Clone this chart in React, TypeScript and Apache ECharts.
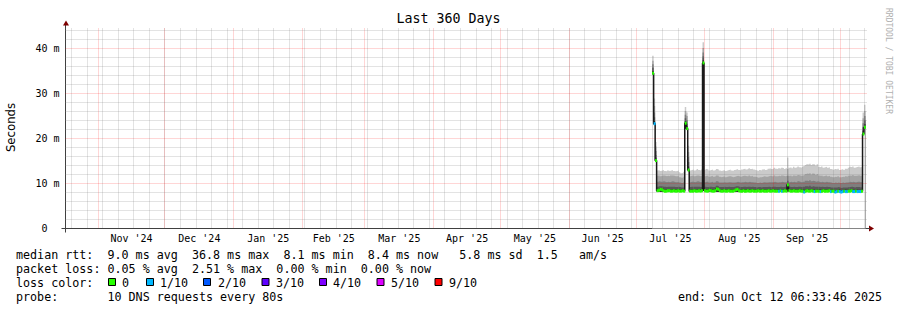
import React, { useEffect, useRef } from 'react';
import * as echarts from 'echarts';

// ---------------- data ----------------
const endTime = Date.UTC(2025, 9, 12, 6, 33, 46);
const spanDays = 360;
const stepSeconds = 57600; // consolidation step of the shown RRA (16 h)
const chartTitle = 'Last 360 Days';

// median RTT per step (ms), first step starts 144 steps before the end time
const medianRtt = [
  34.5, 23.3, 15.1,
  8.4, 8.5, 8.7, 8.6, 8.4, 8.3, 8.3, 8.4, 8.4, 8.3, 8.3, 8.4, 8.3, 8.3, 8.4, 8.3, 8.3, 8.4, 8.3,
  23.4, 22.2, 13.0,
  8.3, 8.3, 8.3, 8.4, 8.3, 8.3, 8.4, 8.3, 8.4,
  36.8,
  8.4, 8.3, 8.3, 8.5, 8.4, 8.3, 8.3, 8.4, 8.8, 8.7,
  8.4, 8.3, 8.3, 8.4, 8.3, 8.3, 8.4, 8.3, 8.3, 8.3,
  8.4, 8.6, 8.7, 8.4, 8.3, 8.3, 8.4, 8.3, 8.3, 8.4,
  8.3, 8.3, 8.4, 8.3, 8.3, 8.3, 8.4, 8.3, 8.3, 8.4,
  8.3, 8.3, 8.3, 8.4, 8.3, 8.3, 8.4, 8.3, 8.3, 8.3,
  8.3, 8.4, 8.3, 8.3, 8.4, 8.3,
  9.7,
  8.4, 8.3, 8.3, 8.4, 8.3, 8.3, 8.3, 8.4,
  8.3, 8.3, 8.1, 8.3, 8.4, 8.3, 8.3, 8.4, 8.3, 8.2,
  8.3, 8.3, 8.3, 8.2, 8.3, 8.4, 8.3, 8.3, 8.3, 8.4,
  8.2, 8.3, 8.3, 8.1, 8.2, 8.3, 8.2, 8.1, 8.2, 8.3,
  8.2, 8.2, 8.3, 8.3, 8.4, 8.2, 8.2, 8.3, 8.2, 8.2,
  8.2, 8.3,
  21.0, 22.5,
];

// lost pings out of 10 per step
const lossTenths = [
  0, 1, 0, 0, 0, 0, 0, 0, 0, 0,
  0, 0, 0, 0, 0, 0, 0, 0, 0, 0,
  0, 0, 0, 0, 0, 0, 0, 0, 0, 0,
  0, 0, 0, 0, 0, 0, 0, 0, 0, 0,
  0, 0, 0, 0, 0, 0, 0, 0, 0, 0,
  0, 0, 0, 0, 0, 0, 0, 0, 0, 0,
  0, 0, 0, 0, 0, 0, 0, 0, 0, 0,
  0, 0, 0, 0, 0, 0, 0, 0, 0, 0,
  0, 0, 0, 0, 0, 1, 0, 1, 0, 0,
  0, 0, 0, 0, 0, 0, 0, 0, 0, 0,
  0, 0, 1, 0, 0, 0, 0, 0, 0, 1,
  0, 0, 0, 1, 0, 0, 0, 0, 0, 0,
  1, 0, 0, 1, 1, 0, 1, 1, 1, 0,
  1, 1, 0, 0, 0, 1, 1, 0, 1, 1,
  1, 0, 0, 0,
];

// smoke: lowest ping, and upper edges of the five grey shades (ms)
const pingMin = [
  34.2, 23.0, 14.8,
  8.1, 8.1, 8.1, 8.1, 8.1, 8.1, 8.1, 8.1, 8.1, 8.1, 8.1, 8.1, 8.1, 8.1, 8.1, 8.1, 8.1, 8.1, 8.1,
  23.1, 21.9, 12.7,
  8.1, 8.1, 8.1, 8.1, 8.1, 8.1, 8.1, 8.1, 8.1,
  36.5,
  8.1, 8.1, 8.1, 8.1, 8.1, 8.1, 8.1, 8.1, 8.1, 8.1,
  8.1, 8.1, 8.1, 8.1, 8.1, 8.1, 8.1, 8.1, 8.1, 8.1,
  8.1, 8.1, 8.1, 8.1, 8.1, 8.1, 8.1, 8.1, 8.1, 8.1,
  8.1, 8.1, 8.1, 8.1, 8.1, 8.1, 8.1, 8.1, 8.1, 8.1,
  8.1, 8.1, 8.1, 8.1, 8.1, 8.1, 8.1, 8.1, 8.1, 8.1,
  8.1, 8.1, 8.1, 8.1, 8.1, 8.1,
  8.2,
  8.1, 8.1, 8.1, 8.1, 8.1, 8.1, 8.1, 8.1,
  8.1, 8.1, 8.0, 8.1, 8.1, 8.1, 8.1, 8.1, 8.1, 8.1,
  8.1, 8.1, 8.1, 8.1, 8.1, 8.1, 8.1, 8.1, 8.1, 8.1,
  8.1, 8.1, 8.1, 8.0, 8.1, 8.1, 8.1, 8.0, 8.1, 8.1,
  8.1, 8.1, 8.1, 8.1, 8.1, 8.1, 8.1, 8.1, 8.1, 8.1,
  8.1, 8.1,
  20.7, 22.2,
];

const smokeTop1 = [
  35.0, 23.9, 15.6,
  8.8, 8.9, 9.0, 8.9, 8.8, 8.7, 8.7, 8.8, 8.8, 8.7, 8.7, 8.8, 8.7, 8.7, 8.8, 8.7, 8.7, 8.7, 8.7,
  23.9, 22.7, 13.8,
  8.7, 8.7, 8.7, 8.8, 8.7, 8.7, 8.8, 8.7, 8.8,
  37.4,
  8.8, 8.7, 8.7, 8.9, 8.8, 8.7, 8.7, 8.8, 9.1, 9.0,
  8.8, 8.7, 8.7, 8.8, 8.7, 8.7, 8.8, 8.7, 8.7, 8.7,
  8.8, 8.9, 9.0, 8.8, 8.7, 8.7, 8.8, 8.7, 8.7, 8.8,
  8.7, 8.7, 8.8, 8.7, 8.7, 8.7, 8.8, 8.7, 8.7, 8.8,
  8.7, 8.7, 8.7, 8.8, 8.7, 8.7, 8.8, 8.7, 8.7, 8.7,
  8.7, 8.8, 8.7, 8.7, 8.8, 8.7,
  10.0,
  8.8, 8.7, 8.7, 8.8, 8.7, 8.7, 8.7, 8.8, 8.7, 8.7,
  8.6, 8.7, 8.8, 8.7, 8.7, 8.8, 8.7, 8.6, 8.7, 8.7,
  8.7, 8.6, 8.7, 8.8, 8.7, 8.7, 8.7, 8.8, 8.6, 8.7,
  8.7, 8.5, 8.6, 8.7, 8.6, 8.5, 8.6, 8.7, 8.6, 8.6,
  8.7, 8.7, 8.8, 8.6, 8.6, 8.7, 8.6, 8.6, 8.6, 8.7,
  21.7, 23.2,
];

const smokeTop2 = [
  35.7, 24.7, 16.3,
  9.3, 9.4, 9.4, 9.4, 9.3, 9.3, 9.2, 9.3, 9.3, 9.3, 9.3, 9.3, 9.2, 9.2, 9.3, 9.2, 9.1, 9.1, 9.2,
  24.5, 23.3, 14.8,
  9.2, 9.3, 9.3, 9.3, 9.3, 9.3, 9.3, 9.2, 9.3,
  38.2,
  9.3, 9.2, 9.2, 9.3, 9.3, 9.2, 9.2, 9.3, 9.5, 9.4,
  9.2, 9.2, 9.2, 9.3, 9.2, 9.2, 9.3, 9.2, 9.2, 9.2,
  9.3, 9.4, 9.4, 9.3, 9.2, 9.2, 9.3, 9.3, 9.2, 9.3,
  9.3, 9.2, 9.3, 9.2, 9.2, 9.1, 9.2, 9.2, 9.1, 9.2,
  9.2, 9.2, 9.2, 9.3, 9.2, 9.2, 9.3, 9.3, 9.2, 9.2,
  9.2, 9.3, 9.2, 9.2, 9.3, 9.2,
  10.6,
  9.3, 9.2, 9.2, 9.3, 9.2, 9.2, 9.3, 9.3, 9.2, 9.3,
  9.2, 9.4, 9.4, 9.3, 9.5, 9.3, 9.4, 9.3, 9.3, 9.3,
  9.3, 9.2, 9.3, 9.2, 9.2, 9.3, 9.2, 9.2, 9.1, 9.1,
  9.1, 9.1, 9.1, 9.2, 9.1, 9.0, 9.1, 9.1, 9.1, 9.1,
  9.2, 9.2, 9.3, 9.2, 9.1, 9.2, 9.2, 9.2, 9.1, 9.2,
  22.5, 24.1,
];

const smokeTop3 = [
  36.5, 25.8, 17.2,
  10.4, 10.5, 10.4, 10.4, 10.5, 10.4, 10.3, 10.4, 10.3, 10.4, 10.5, 10.4, 10.3, 10.3, 10.4, 10.2, 10.1, 10.1, 10.3,
  25.3, 24.1, 15.9,
  10.3, 10.4, 10.4, 10.3, 10.4, 10.5, 10.4, 10.3, 10.4,
  39.1,
  10.3, 10.4, 10.4, 10.2, 10.3, 10.4, 10.2, 10.3, 10.5, 10.4,
  10.2, 10.2, 10.2, 10.3, 10.2, 10.2, 10.3, 10.3, 10.2, 10.2,
  10.2, 10.3, 10.4, 10.3, 10.2, 10.3, 10.3, 10.4, 10.3, 10.3,
  10.4, 10.3, 10.3, 10.2, 10.2, 10.1, 10.1, 10.2, 10.1, 10.2,
  10.3, 10.2, 10.2, 10.3, 10.3, 10.3, 10.3, 10.4, 10.3, 10.2,
  10.3, 10.3, 10.4, 10.3, 10.3, 10.3,
  11.7,
  10.3, 10.4, 10.3, 10.4, 10.3, 10.3, 10.5, 10.4, 10.3, 10.4,
  10.4, 10.6, 10.6, 10.5, 10.7, 10.5, 10.6, 10.5, 10.4, 10.5,
  10.4, 10.3, 10.4, 10.3, 10.3, 10.4, 10.3, 10.3, 10.2, 10.1,
  10.1, 10.2, 10.1, 10.2, 10.1, 10.1, 10.2, 10.1, 10.2, 10.2,
  10.3, 10.4, 10.3, 10.4, 10.3, 10.3, 10.4, 10.4, 10.3, 10.4,
  23.4, 25.0,
];

const smokeTop4 = [
  37.3, 27.2, 18.2,
  11.7, 11.8, 11.6, 11.7, 11.8, 11.7, 11.6, 11.7, 11.6, 11.8, 11.8, 11.7, 11.6, 11.6, 11.7, 11.4, 11.3, 11.3, 11.5,
  26.1, 25.0, 17.0,
  11.6, 11.7, 11.8, 11.6, 11.7, 11.8, 11.7, 11.6, 11.7,
  40.1,
  11.6, 11.7, 11.7, 11.5, 11.6, 11.7, 11.5, 11.6, 11.8, 11.7,
  11.5, 11.4, 11.5, 11.6, 11.4, 11.5, 11.6, 11.6, 11.5, 11.4,
  11.5, 11.6, 11.7, 11.6, 11.5, 11.6, 11.7, 11.7, 11.6, 11.6,
  11.8, 11.6, 11.7, 11.5, 11.5, 11.4, 11.3, 11.4, 11.4, 11.5,
  11.6, 11.5, 11.5, 11.6, 11.7, 11.6, 11.6, 11.8, 11.6, 11.6,
  11.7, 11.6, 11.8, 11.7, 11.6, 11.7,
  13.2,
  11.7, 11.8, 11.6, 11.8, 11.7, 11.7, 11.9, 11.8, 11.7, 11.8,
  11.9, 12.1, 12.2, 12.1, 12.3, 12.0, 12.2, 12.1, 11.9, 12.1,
  11.8, 11.7, 11.8, 11.6, 11.7, 11.8, 11.6, 11.7, 11.5, 11.4,
  11.4, 11.5, 11.4, 11.6, 11.4, 11.4, 11.5, 11.4, 11.6, 11.5,
  11.7, 11.8, 11.7, 11.9, 11.7, 11.7, 11.8, 11.9, 11.7, 11.8,
  24.5, 26.1,
];

const pingMax = [
  38.4, 28.9, 19.2,
  12.9, 13.0, 12.8, 12.9, 13.0, 12.8, 12.7, 12.9, 12.8, 12.9, 13.0, 12.8, 12.7, 12.8, 12.9, 12.5, 12.3, 12.4, 12.6,
  27.0, 25.8, 18.4,
  12.9, 13.0, 13.1, 12.9, 13.0, 13.2, 13.0, 12.9, 13.1,
  41.4,
  13.0, 13.2, 13.1, 12.9, 13.0, 13.1, 12.9, 13.0, 13.2, 13.1,
  12.9, 12.8, 12.9, 13.0, 12.8, 12.9, 13.0, 13.1, 12.9, 12.8,
  13.0, 13.1, 13.2, 13.0, 12.9, 13.1, 13.2, 13.3, 13.1, 13.2,
  13.4, 13.2, 13.3, 13.1, 13.0, 12.9, 12.8, 13.0, 12.9, 13.1,
  13.2, 13.0, 13.1, 13.3, 13.4, 13.2, 13.3, 13.5, 13.3, 13.2,
  13.4, 13.3, 13.5, 13.4, 13.2, 13.4,
  15.8,
  13.5, 13.6, 13.4, 13.7, 13.5, 13.6, 13.8, 13.6, 13.5, 13.7,
  13.9, 14.1, 14.3, 14.2, 14.4, 14.1, 14.3, 14.2, 14.0, 14.3,
  13.7, 13.6, 13.8, 13.5, 13.6, 13.7, 13.5, 13.6, 13.2, 13.1,
  13.0, 13.2, 13.1, 13.3, 13.0, 13.1, 13.2, 13.0, 13.3, 13.2,
  13.5, 13.7, 13.6, 13.8, 13.5, 13.6, 13.7, 13.8, 13.6, 13.7,
  25.8, 27.5,
];

const smokeColors = ['#323232', '#585858', '#7e7e7e', '#a4a4a4', '#cacaca'];

const monthLabels = ["Nov '24", "Dec '24", "Jan '25", "Feb '25", "Mar '25", "Apr '25", "May '25", "Jun '25", "Jul '25", "Aug '25", "Sep '25"];
const monthLabelYears = [2024, 2024, 2025, 2025, 2025, 2025, 2025, 2025, 2025, 2025, 2025];
const monthLabelMonths = [10, 11, 0, 1, 2, 3, 4, 5, 6, 7, 8];
const yTickValues = [0, 10, 20, 30, 40];

const lossLabels = ['0', '1/10', '2/10', '3/10', '4/10', '5/10', '9/10'];
const lossUpper = [0, 1, 2, 3, 4, 5, 10];
const lossColors = ['#26ff00', '#00b8ff', '#0059ff', '#5e00ff', '#7e00ff', '#dd00ff', '#ff0000'];

const legendRtt = 'median rtt:  9.0 ms avg  36.8 ms max  8.1 ms min  8.4 ms now   5.8 ms sd  1.5   am/s';
const legendLoss = 'packet loss: 0.05 % avg  2.51 % max  0.00 % min  0.00 % now';
const legendLossColor = 'loss color:';
const legendProbe = 'probe:       10 DNS requests every 80s';
const legendEnd = 'end: Sun Oct 12 06:33:46 2025';
const yAxisName = 'Seconds';
const watermark = 'RRDTOOL / TOBI OETIKER';

// ---------------- layout ----------------
const MONO = '"DejaVu Sans Mono", monospace';
const SANS = '"DejaVu Sans", sans-serif';
const PLOT_LEFT = 65.5;
const PLOT_TOP = 28.5;
const PLOT_W = 800;
const PLOT_H = 200;
const PX_PER_MS_VALUE = 4.5; // pixels per millisecond of RTT
const DAY = 86400000;

export default function App() {
  const ref = useRef<HTMLDivElement>(null);

  useEffect(() => {
    document.body.style.margin = '0';
    const chart = echarts.init(ref.current as HTMLDivElement, null, { renderer: 'svg' });

    const startTime = endTime - spanDays * DAY;
    const pxPerMs = PLOT_W / (spanDays * DAY);
    const xMax = endTime + 4 / pxPerMs;
    const yMax = PLOT_H / PX_PER_MS_VALUE;
    const stepMs = stepSeconds * 1000;
    const n = medianRtt.length;
    const t0 = endTime - n * stepMs;
    const tAt = (i: number) => t0 + i * stepMs;
    const stepPts = (arr: number[]) => {
      const pts = arr.map((v, i) => [tAt(i), v]);
      pts.push([tAt(arr.length), arr[arr.length - 1]]);
      return pts;
    };

    const monthMid = monthLabelYears.map((y, k) => {
      const m = monthLabelMonths[k];
      const a = Date.UTC(y, m, 1);
      const b = Date.UTC(y, m + 1, 1);
      return (a + b) / 2;
    });

    // grid line positions
    const monthStarts: number[] = [];
    for (let k = 0; ; k++) {
      const t = Date.UTC(2024, 10 + k, 1);
      if (t > endTime) break;
      monthStarts.push(t);
    }
    const weekLines: number[] = [];
    for (let t = Date.UTC(2024, 9, 20); t <= endTime; t += 7 * DAY) weekLines.push(t);
    const hLines: number[][] = [];
    for (let v = 2; v < yMax; v += 2) hLines.push([v, v % 10 === 0 ? 1 : 0]);
    const vLines: number[][] = [
      ...weekLines.map((t) => [t, 0]),
      ...monthStarts.map((t) => [t, 1]),
    ];
    const minorCol = 'rgba(128,128,128,0.45)';
    const majorCol = 'rgba(255,0,0,0.32)';

    // smoke: shades painted from the outermost (max ping) inward, then blanked below the lowest ping
    const layers = [pingMax, smokeTop4, smokeTop3, smokeTop2, smokeTop1, pingMin];
    const layerColors = [smokeColors[4], smokeColors[3], smokeColors[2], smokeColors[1], smokeColors[0], '#ffffff'];

    const series: any[] = [];
    layers.forEach((arr, k) => {
      series.push({
        name: 'smoke-' + k, type: 'line', step: 'end',
        data: stepPts(arr),
        symbol: 'none', silent: true, z: 2,
        lineStyle: { width: 0, opacity: 0 },
        areaStyle: { color: layerColors[k], opacity: 1 },
      });
    });

    series.push({
      name: 'grid-v', type: 'custom', silent: true, z: 3,
      data: vLines,
      encode: { x: 0 },
      renderItem: (params: any, api: any) => {
        const p = api.coord([api.value(0), 0]);
        const x = Math.floor(p[0]) + 0.5;
        const cs = params.coordSys;
        return {
          type: 'line',
          shape: { x1: x, y1: cs.y, x2: x, y2: cs.y + cs.height },
          style: { stroke: api.value(1) ? majorCol : minorCol, lineWidth: 1, lineDash: [1, 1] },
        };
      },
    });
    series.push({
      name: 'grid-h', type: 'custom', silent: true, z: 3,
      data: hLines,
      encode: { y: 0 },
      renderItem: (params: any, api: any) => {
        const p = api.coord([startTime, api.value(0)]);
        const y = Math.floor(p[1]) + 0.5;
        const cs = params.coordSys;
        return {
          type: 'line',
          shape: { x1: cs.x, y1: y, x2: cs.x + cs.width - 3, y2: y },
          style: { stroke: api.value(1) ? majorCol : minorCol, lineWidth: 1, lineDash: [1, 1] },
        };
      },
    });

    series.push({
      name: 'median', type: 'line', step: 'end', data: stepPts(medianRtt),
      symbol: 'none', silent: true, z: 4,
      lineStyle: { color: '#1a1a1a', width: 1.5 },
    });

    const lossColorFor = (l: number) => {
      for (let k = 0; k < lossUpper.length; k++) if (l <= lossUpper[k]) return lossColors[k];
      return lossColors[lossColors.length - 1];
    };
    series.push({
      name: 'median-loss', type: 'custom', silent: true, z: 5,
      data: medianRtt.map((v, i) => [tAt(i), tAt(i + 1), v, lossTenths[i]]),
      encode: { x: [0, 1], y: 2 },
      renderItem: (_p: any, api: any) => {
        const a = api.coord([api.value(0), api.value(2)]);
        const b = api.coord([api.value(1), api.value(2)]);
        return {
          type: 'rect',
          shape: { x: a[0], y: a[1] - 1.5, width: b[0] - a[0] + 0.4, height: 3 },
          style: { fill: lossColorFor(api.value(3)) },
        };
      },
    });

    const elements: any[] = [];
    const axisCol = '#404040';
    const arrowCol = '#7f0000';
    const yBottom = PLOT_TOP + PLOT_H;
    elements.push({ type: 'line', silent: true, shape: { x1: PLOT_LEFT, y1: 22, x2: PLOT_LEFT, y2: PLOT_TOP }, style: { stroke: axisCol, lineWidth: 1 } });
    elements.push({ type: 'line', silent: true, shape: { x1: PLOT_LEFT, y1: yBottom, x2: PLOT_LEFT, y2: yBottom + 4 }, style: { stroke: axisCol, lineWidth: 1 } });
    elements.push({ type: 'line', silent: true, shape: { x1: PLOT_LEFT - 4, y1: yBottom, x2: PLOT_LEFT, y2: yBottom }, style: { stroke: axisCol, lineWidth: 1 } });
    elements.push({ type: 'polygon', silent: true, shape: { points: [[PLOT_LEFT + 0.5, 20.5], [PLOT_LEFT - 2.5, 25.5], [PLOT_LEFT + 3.5, 25.5]] }, style: { fill: arrowCol } });
    elements.push({ type: 'polygon', silent: true, shape: { points: [[874, yBottom], [869, yBottom - 3], [869, yBottom + 3]] }, style: { fill: arrowCol } });

    elements.push({
      type: 'text', silent: true, x: 11, y: 127.5, rotation: Math.PI / 2,
      style: { text: yAxisName, font: `11.7px ${SANS}`, fill: '#000', align: 'center', verticalAlign: 'middle' },
    });
    elements.push({
      type: 'text', silent: true, x: 888, y: 8, rotation: -Math.PI / 2,
      style: { text: watermark, font: `8px ${MONO}`, fill: '#b0b0b0', align: 'left', verticalAlign: 'middle' },
    });

    const legendFont = `11.7px ${MONO}`;
    const rows = [255, 268.5, 282.5, 296.5];
    elements.push({ type: 'text', silent: true, x: 16, y: rows[0], style: { text: legendRtt, font: legendFont, fill: '#000', verticalAlign: 'middle' } });
    elements.push({ type: 'text', silent: true, x: 16, y: rows[1], style: { text: legendLoss, font: legendFont, fill: '#000', verticalAlign: 'middle' } });
    elements.push({ type: 'text', silent: true, x: 16, y: rows[2], style: { text: legendLossColor, font: legendFont, fill: '#000', verticalAlign: 'middle' } });
    elements.push({ type: 'text', silent: true, x: 16, y: rows[3], style: { text: legendProbe, font: legendFont, fill: '#000', verticalAlign: 'middle' } });
    elements.push({ type: 'text', silent: true, x: 678, y: rows[3], style: { text: legendEnd, font: legendFont, fill: '#000', verticalAlign: 'middle' } });
    const boxX = [108.5, 146.5, 203.5, 262, 319.5, 377, 435];
    const textX = [122, 160, 218, 276, 333, 391, 449];
    lossLabels.forEach((lab, k) => {
      elements.push({ type: 'rect', silent: true, shape: { x: boxX[k], y: rows[2] - 4, width: 7, height: 7 }, style: { fill: lossColors[k], stroke: '#000', lineWidth: 1 } });
      elements.push({ type: 'text', silent: true, x: textX[k], y: rows[2], style: { text: lab, font: legendFont, fill: '#000', verticalAlign: 'middle' } });
    });

    const option: any = {
      animation: false,
      backgroundColor: '#ffffff',
      title: {
        text: chartTitle, left: 'center', top: 12, padding: 0,
        textStyle: { fontFamily: MONO, fontSize: 13.3, fontWeight: 'normal', color: '#000' },
      },
      grid: { left: PLOT_LEFT, top: PLOT_TOP, width: PLOT_W + 4, height: PLOT_H, containLabel: false },
      xAxis: {
        type: 'value', min: startTime, max: xMax,
        axisLine: { show: true, lineStyle: { color: axisCol, width: 1 } },
        axisTick: { show: false },
        splitLine: { show: false },
        axisLabel: {
          customValues: monthMid,
          margin: 5,
          fontFamily: MONO, fontSize: 10, color: '#000',
          formatter: (v: number) => {
            const k = monthMid.findIndex((m) => Math.abs(m - v) < 1000);
            return k >= 0 ? monthLabels[k] : '';
          },
        },
      },
      yAxis: {
        type: 'value', min: 0, max: yMax,
        axisLine: { show: true, lineStyle: { color: axisCol, width: 1 } },
        axisTick: { show: false },
        splitLine: { show: false },
        axisLabel: {
          customValues: yTickValues,
          margin: 6,
          fontFamily: MONO, fontSize: 10, color: '#000',
          formatter: (v: number) => (v === 0 ? '{z|0}' : `${v} m`),
          rich: { z: { fontFamily: MONO, fontSize: 10, color: '#000', padding: [0, 12, 0, 0] } },
        },
      },
      series,
      graphic: { elements },
    };
    chart.setOption(option);
    return () => chart.dispose();
  }, []);

  return <div ref={ref} style={{ width: 897, height: 310 }} />;
}
